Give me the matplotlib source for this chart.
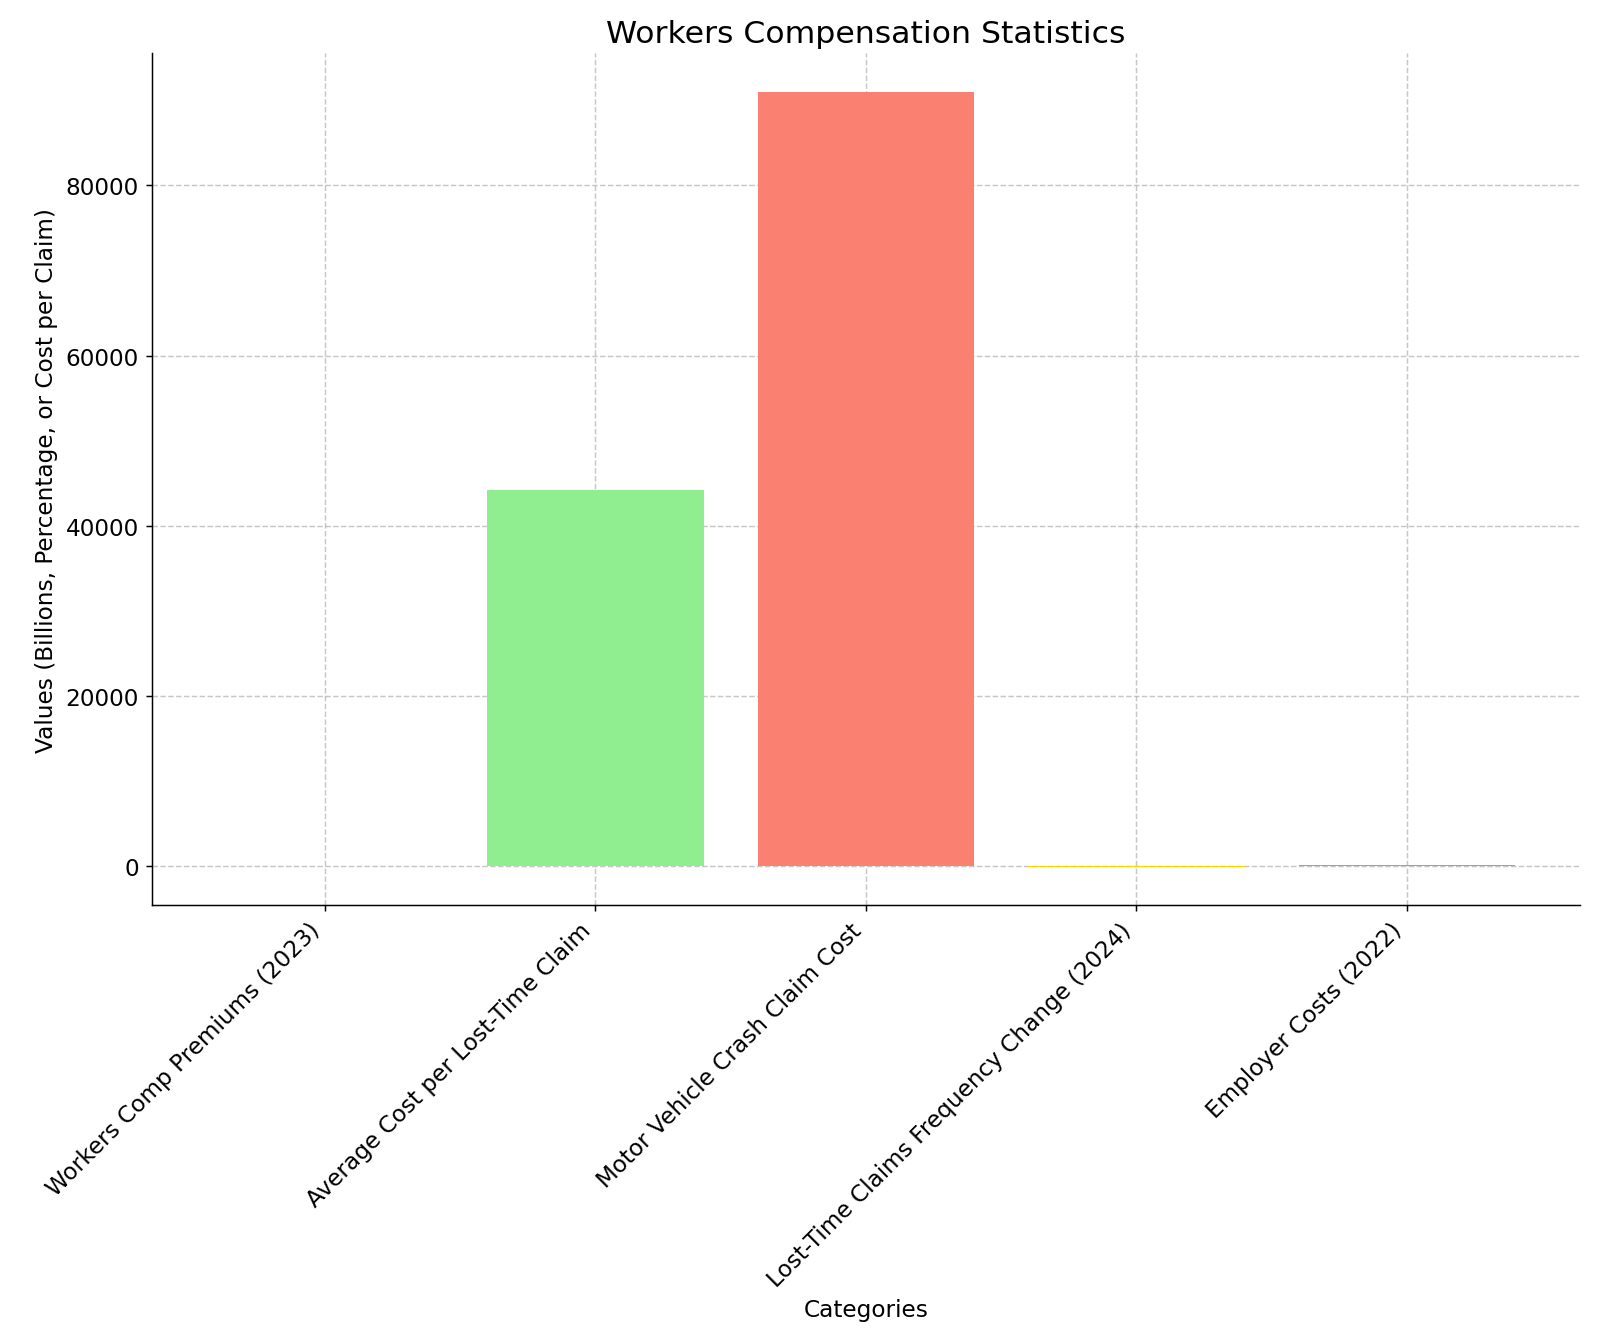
import matplotlib
matplotlib.use("Agg")
import matplotlib.pyplot as plt

categories = ["Workers Comp Premiums (2023)", "Average Cost per Lost-Time Claim",
              "Motor Vehicle Crash Claim Cost", "Lost-Time Claims Frequency Change (2024)",
              "Employer Costs (2022)"]
values = [5.0, 44179, 91000, -2, 171]
colors = ["skyblue", "lightgreen", "salmon", "gold", "lightcoral"]

fig, ax = plt.subplots(figsize=(12, 10.065), dpi=133.333)
ax.bar(categories, values, color=colors, zorder=2)
ax.set_title("Workers Compensation Statistics", fontsize=17)
ax.set_xlabel("Categories", fontsize=12.5)
ax.set_ylabel("Values (Billions, Percentage, or Cost per Claim)", fontsize=12.5)
ax.tick_params(labelsize=12.5)
plt.setp(ax.get_xticklabels(), rotation=45, ha="right")
ax.grid(True, linestyle="--", alpha=0.7, zorder=0)
ax.spines["top"].set_visible(False)
ax.spines["right"].set_visible(False)
fig.tight_layout()
fig.savefig("out.png")
